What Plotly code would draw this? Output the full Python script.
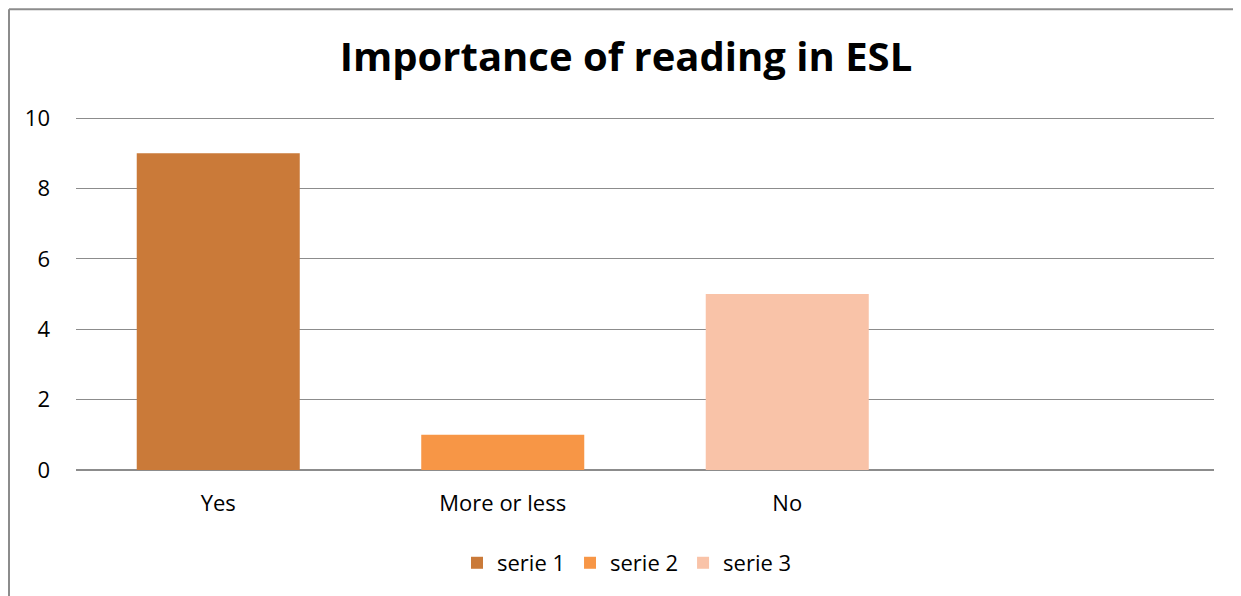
import plotly.graph_objects as go

categories = ["Yes", "More or less", "No", " "]
series_names = ["serie 1", "serie 2", "serie 3"]
series_values = [9, 1, 5]
series_colors = ["#CA7A39", "#F79646", "#F9C3A8"]
y_ticks = [0, 2, 4, 6, 8, 10]

FONT = "Open Sans"
fig = go.Figure()
for name, cat, val, col in zip(series_names, categories[:3], series_values, series_colors):
    fig.add_trace(go.Bar(x=[cat], y=[val], name=name, marker=dict(color=col, line=dict(width=0)),
                         width=0.573))

OFF = 8  # page body margin
W, H = 1241 - OFF, 596 - OFF
YMAX = 10.06
px_per_unit = 35.2
ph = px_per_unit * YMAX
b = H - (470 - OFF)
t = H - b - ph
l, r = 76 - OFF, 27
pw = W - l - r

bx0 = -(l - 1) / pw
by1 = 1 + (t - 1) / ph
border = dict(color="#8C8C8C", width=2)

fig.update_layout(
    width=W, height=H,
    margin=dict(l=l, r=r, t=t, b=b, autoexpand=False),
    paper_bgcolor="white", plot_bgcolor="white",
    barmode="overlay",
    font=dict(family=FONT, size=22, color="#000000"),
    title=dict(text="<b>Importance of reading in ESL</b>", x=(626 - OFF) / W, xanchor="center",
               y=1 - (57 - OFF) / H, yanchor="middle", font=dict(family=FONT, size=40, color="#000000")),
    xaxis=dict(categoryorder="array", categoryarray=categories, range=[-0.5, 3.5],
               showgrid=False, showline=False, zeroline=False, ticks="",
               ticklabelstandoff=18, tickfont=dict(size=22)),
    yaxis=dict(range=[0, YMAX], tickvals=y_ticks, showgrid=True, gridcolor="#8C8C8C", gridwidth=1,
               zeroline=True, zerolinecolor="#8C8C8C", zerolinewidth=1.5, showline=False,
               ticks="", ticklabelstandoff=25, tickfont=dict(size=22)),
    showlegend=True,
    legend=dict(orientation="h", x=(627 - 76) / pw, xanchor="center", y=(470 - 563) / ph, yanchor="middle",
                font=dict(size=22), itemwidth=30, traceorder="normal"),
    shapes=[
        dict(type="line", xref="paper", yref="paper", x0=bx0, x1=(1300 - 76) / pw, y0=by1, y1=by1,
             line=border, layer="below"),
        dict(type="line", xref="paper", yref="paper", x0=bx0, x1=bx0, y0=-(b + 50) / ph, y1=by1,
             line=border, layer="below"),
    ],
)

fig.write_html("out.html")
